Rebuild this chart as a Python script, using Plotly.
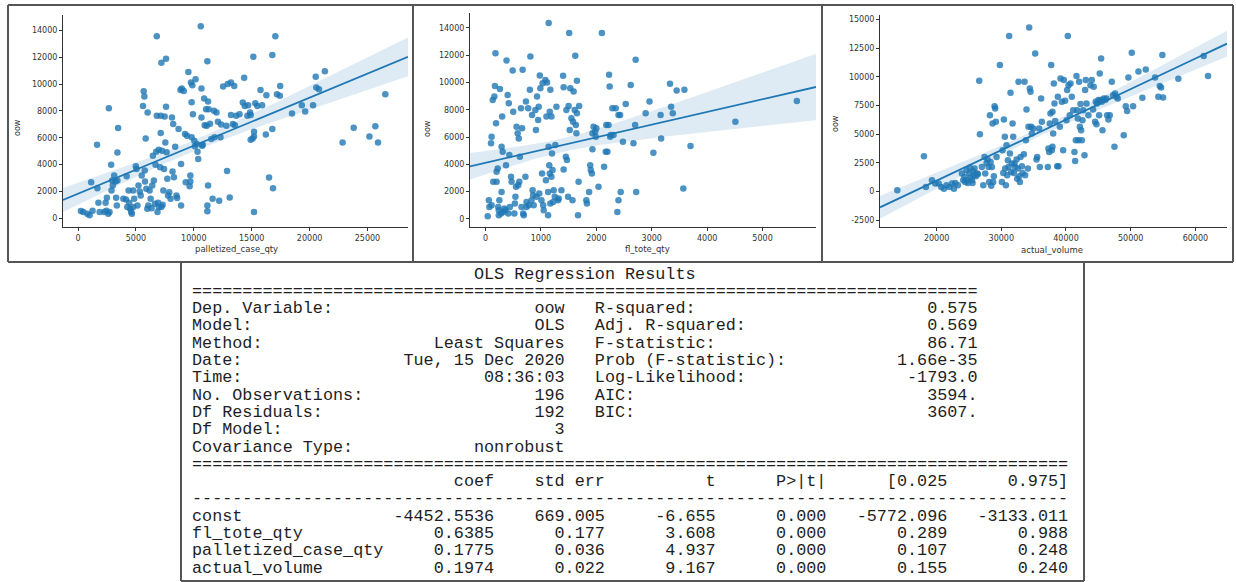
import numpy as np
import plotly.graph_objects as go

W, H = 1236, 582

# ---------------- data ----------------
pcq_pts = [
(250,520),(450,450),(800,320),(1000,200),(1250,550),(1130,2680),(1640,5480),(1670,2230),(1760,1140),(1870,450),
(2270,450),(2440,550),(2610,320),(2720,450),(2380,1140),(2490,1510),(2660,8210),(2860,3990),(2950,2800),(3000,2430),
(2890,2060),(3120,3170),(3230,2730),(3290,1510),(3350,940),(3460,6720),(3400,4890),(3400,2800),
(3910,1440),(4140,1390),(4250,820),(4200,3120),(4420,1140),(4510,690),(4650,320),(4760,2060),(4850,1440),(4990,3870),
(5050,3670),(5130,940),(5220,2430),(4590,450),(4760,820),(4370,2060),
(5330,1980),(5410,1690),(5500,3170),(5610,8380),(5670,9470),(5730,9080),(5760,3550),(5780,2730),(5840,5950),(5900,2180),
(6010,7890),(6070,940),(6180,2060),(6270,1440),(6350,740),(6460,4660),(6550,2800),(6630,1070),(6690,3990),(6750,4960),
(6800,7640),(6800,13590),(6860,450),(6920,1140),(6970,5110),(6410,2430),(5980,690),
(7090,3790),(7140,6350),(7140,7640),(7200,11610),(7260,5030),(7310,990),(7370,2060),(7430,3670),(7480,7590),(7540,5650),
(7600,11900),(7600,8310),(7650,4910),(7710,2930),(7770,1690),(7880,1930),(7990,1440),(8110,7510),(8160,3470),(8220,7020),
(8280,3050),(8390,5330),(8500,1690),(8560,1490),(8680,6650),(7200,820),(6970,820),
(8850,9570),(8900,4040),(8900,940),(8960,9670),(9130,9500),(9240,6270),(9300,2680),(9410,6150),(9530,10910),(9640,2380),
(9700,3170),(9700,2730),(9750,10120),(9810,6030),(9810,8660),(9870,9920),(9920,7760),(10040,5780),(10090,5360),(10150,10370),
(10260,5530),(10320,4960),(10380,4410),
(10600,14330),(10660,9670),(10660,7510),(10720,5410),(10770,5480),(10890,8930),(10940,6940),(11060,8130),(11110,6890),
(11170,11710),(11170,940),(11170,500),(11230,8700),(11230,2430),(11280,8130),(11400,7040),(11510,5900),(11620,1440),
(11740,8010),(11790,6030),(11960,7890),(12080,7190),
(12190,1290),(12300,6030),(12360,6990),(12530,9820),(12810,6890),(12870,3520),(12930,10020),(13100,1540),(13210,10120),
(13210,7690),(13380,7020),(13490,9870),(13550,6940),(13660,7640),
(13950,7760),(14230,8630),(14350,10490),(14400,8380),(14630,7640),(14690,8430),(14860,7890),(14910,7690),(15080,5950),
(15140,12050),(15200,6450),(15200,6100),(15200,450),(15310,8580),(15480,8380),(14910,5850),(15760,9570),(15900,8430),
(16220,6250),(16270,9180),(16500,3030),(16780,6650),(16780,12180),(16840,2230),(17040,13590),(17180,9250),(17430,9130),
(17460,9870),
(18480,7810),(19330,8430),(19620,7960),(20300,8430),(20530,10560),(20580,9750),(20810,9620),(21320,10960),(22850,5650),
(23810,6750),(25170,6100),(25680,6850),(25910,5650),(26540,9250),
]

tote_pts = [
(40,200),(60,1370),(100,5540),(110,6030),(140,2720),(160,8970),(170,9750),(180,12150),(190,7010),(200,3450),(220,3700),
(230,880),(240,640),(250,1370),(260,9530),(280,390),(290,1980),(290,5290),(300,7500),(310,4920),(320,510),(340,760),
(360,640),(370,3940),(380,11610),(400,9090),(410,390),(420,8480),(430,4680),(440,880),(460,3090),(470,2720),(70,880),
(110,1000),(130,8720),(200,2720),(240,270),
(490,10880),(500,7860),(520,390),(530,1130),(540,1620),(550,2350),(560,6760),(580,6270),(590,2470),(600,5900),(610,2720),
(620,4560),(640,8110),(650,880),(660,6640),(670,10930),(690,270),(720,3090),(730,8600),(740,1250),(770,8110),(780,1000),
(800,9460),(810,11910),(830,1370),(840,7620),(850,2110),(860,1740),(870,1000),(900,7990),(910,6520),(920,1620),(930,8970),
(950,7250),(960,8230),(970,1860),(980,10510),(990,9580),(1010,1370),(1020,3330),(1030,9950),(1040,1000),(1050,640),
(1080,10190),(740,880),(680,390),
(1090,2840),(1100,7500),(1110,10000),(1130,1980),(1130,270),(1140,5290),(1140,14360),(1150,3940),(1160,7860),(1160,3330),
(1170,9460),(1170,1130),(1190,3090),(1190,7500),(1200,4800),(1210,3580),(1220,1250),(1230,2110),(1250,1620),(1260,5410),
(1280,8230),(1310,1370),(1320,1490),(1370,2110),(1400,10490),(1410,3630),(1410,9650),(1450,4560),(1460,7990),(1470,4310),
(1490,1620),(1500,8280),(1510,13620),(1520,6520),(1530,9580),(1550,7370),(1570,1370),(1580,7130),(1590,9330),(1610,7990),
(1620,11960),(1630,6880),(1640,6270),(1650,7740),(1650,10120),(1670,270),(1680,2720),(1690,8280),
(1820,1370),(1830,1130),(1870,1980),(1890,3940),(1900,3580),(1920,3330),(1930,6270),(1930,5100),(1950,6760),(1980,6390),
(1990,6030),(2000,6640),(2040,2350),(2100,13620),(2140,3820),(2170,4920),(2180,6880),(2200,4920),(2220,6880),(2230,10560),
(2240,9700),(2250,6030),(2260,6150),
(2290,8110),(2310,6150),(2350,8110),(2380,510),(2400,1370),(2400,7620),(2430,7620),(2440,1980),(2480,5660),(2530,8430),
(2620,9820),(2670,5540),(2700,6880),(2710,11660),(2720,1980),(2890,7740),(2960,8600),
(3030,4850),(3160,7620),(3170,5900),(3330,9900),(3350,8230),(3380,7740),(3450,9410),(3570,2230),(3590,9460),(3700,5340),
(4510,7130),(5620,8650),
]

vol_pts = [
(13925,120),(18040,3080),(18350,410),(19280,990),(19790,700),(20310,700),(20720,410),(21130,260),(21540,550),(21960,410),
(22370,700),(22680,260),(22880,760),(23290,550),(23910,1570),(24120,990),(24320,1280),(24430,840),(24630,1860),(24740,990),
(24840,760),(25050,1570),(25150,2090),(25250,1220),(25460,990),(25560,760),(25660,1800),(25770,1420),(25870,2010),
(26070,1340),(26280,1570),(26380,1510),(26590,9650),(26690,5000),(27000,2150),(27210,550),(27410,3020),(27520,1570),
(27720,2500),(27880,2790),(28030,2150),(28130,840),(28240,6660),(28340,2590),(28440,520),(28550,2150),(28650,5930),
(28750,840),(28850,1340),(28960,7440),(29060,7240),(29160,6080),(29270,3020),(29780,11020),(30090,840),(30190,3600),
(30300,1630),(30400,6280),(30550,4770),(30600,2010),(30710,550),(30810,4040),(30910,1420),(31020,2730),(31120,2150),
(31220,13550),(31330,3310),(31430,8600),(31530,1720),(31630,2440),(31740,5930),(31840,4770),(31940,1630),(32050,2440),
(32150,2150),(32360,2790),(32460,1130),(32560,2010),(32660,9560),(32770,1340),(32870,840),(32970,3020),(33180,2210),
(33280,1630),(33490,3260),(33590,9560),(33690,1420),(33800,4480),(33900,7150),(34110,2010),(34210,5640),(34310,14300),
(34410,8980),(34520,8690),(34620,5640),(34720,5060),(34930,5490),(35240,12030),(35440,2790),(35550,3020),(35850,5490),
(35960,2150),(36160,8110),(36270,6080),(37190,2150),(37290,3750),(37400,3460),(37500,5930),(37600,6800),(37710,11020),
(37810,3600),(37910,3900),(37910,6950),(38020,5060),(38120,9420),(38220,7670),(38330,6160),(38640,2210),(38740,8260),
(38840,2210),(39050,5640),(39150,9850),(39360,7820),(39560,3600),(39670,9710),(39870,7910),(40080,6220),(40180,8840),
(40280,13550),(40390,9270),(40590,6660),(40700,9420),(40900,8260),(41110,7090),(41310,3460),(41410,2670),(41520,4480),
(41620,10060),(41720,7090),(41830,6370),(41930,4480),(42030,9560),(42140,5640),(42240,7620),(42340,5350),(42450,4480),
(42550,6220),(42650,7090),(42860,3170),(42960,8840),(43060,9710),(43170,7670),(43470,6660),(43780,9270),(43990,9710),
(44190,7150),(44290,9130),(44500,6080),(44600,7820),(44710,5870),(44810,7670),(45020,7970),(45120,6660),(45220,10290),
(45330,7970),(45430,11600),(45530,7820),(45640,5350),(45840,8110),(46050,7970),(46250,8110),(46360,6660),(46560,6280),
(46770,6660),(47080,9560),(47280,8400),(47490,3900),(47590,8550),(47800,8260),(48000,8110),(48930,4910),(49240,7440),
(49450,7030),(49650,9940),(50170,12090),(50370,7440),(51200,10470),(51810,8170),(52330,10640),(53770,9940),(54280,8260),
(54490,9190),(54700,9070),(55010,8200),(54900,11890),(57370,9830),(61290,11800),(61960,10060),
]

pcq_xticks = [0, 5000, 10000, 15000, 20000, 25000]
tote_xticks = [0, 1000, 2000, 3000, 4000, 5000]
vol_xticks = [20000, 30000, 40000, 50000, 60000]
oow_ticks_a = [0, 2000, 4000, 6000, 8000, 10000, 12000, 14000]
oow_ticks_b = [-2500, 0, 2500, 5000, 7500, 10000, 12500, 15000]

# OLS summary text
ols_title = "OLS Regression Results"
top_left = [("Dep. Variable:", "oow"), ("Model:", "OLS"), ("Method:", "Least Squares"),
            ("Date:", "Tue, 15 Dec 2020"), ("Time:", "08:36:03"), ("No. Observations:", "196"),
            ("Df Residuals:", "192"), ("Df Model:", "3"), ("Covariance Type:", "nonrobust")]
top_right = [("R-squared:", "0.575"), ("Adj. R-squared:", "0.569"), ("F-statistic:", "86.71"),
             ("Prob (F-statistic):", "1.66e-35"), ("Log-Likelihood:", "-1793.0"), ("AIC:", "3594."),
             ("BIC:", "3607."), None, None]
coef_header = ["coef", "std err", "t", "P>|t|", "[0.025", "0.975]"]
coef_names = ["const", "fl_tote_qty", "palletized_case_qty", "actual_volume"]
coef_vals = ["-4452.5536", "0.6385", "0.1775", "0.1974"]
std_err = ["669.005", "0.177", "0.036", "0.022"]
t_vals = ["-6.655", "3.608", "4.937", "9.167"]
p_vals = ["0.000", "0.000", "0.000", "0.000"]
ci_lo = ["-5772.096", "0.289", "0.107", "0.155"]
ci_hi = ["-3133.011", "0.988", "0.248", "0.240"]

# ---------------- helpers ----------------
def fx(p):
    return p / W

def fy(p):
    return 1 - p / H

BLUE = "#1f77b4"

def fit_band(x, y, grid):
    x = np.asarray(x, float)
    y = np.asarray(y, float)
    n = len(x)
    b, a = np.polyfit(x, y, 1)
    yhat = a + b * grid
    resid = y - (a + b * x)
    s = np.sqrt(resid @ resid / (n - 2))
    xm = x.mean()
    sxx = ((x - xm) ** 2).sum()
    se = s * np.sqrt(1 / n + (grid - xm) ** 2 / sxx)
    return yhat, yhat - 1.96 * se, yhat + 1.96 * se

panels = [
    dict(pts=pcq_pts, xlab="palletized_case_qty", dom=(63, 408), vdom=(15, 227),
         xr=(-1300, 28500), yr=(-670, 15170), xt=pcq_xticks, yt=oow_ticks_a,
         xl=(236, 249), yl=(17, 128)),
    dict(pts=tote_pts, xlab="fl_tote_qty", dom=(470, 816), vdom=(13, 227),
         xr=(-280, 5965), yr=(-590, 15090), xt=tote_xticks, yt=oow_ticks_a,
         xl=(647, 249), yl=(427, 128)),
    dict(pts=vol_pts, xlab="actual_volume", dom=(880, 1227), vdom=(15, 227),
         xr=(11250, 64890), yr=(-3080, 15380), xt=vol_xticks, yt=oow_ticks_b,
         xl=(1052, 250), yl=(835, 124)),
]

fig = go.Figure()
annotations = []
layout_axes = {}
tickfont = dict(family="DejaVu Sans", size=8, color="#333333")

for i, p in enumerate(panels, start=1):
    xs = [a for a, _ in p["pts"]]
    ys = [b for _, b in p["pts"]]
    xa = "x" if i == 1 else f"x{i}"
    ya = "y" if i == 1 else f"y{i}"
    fig.add_trace(go.Scatter(x=xs, y=ys, mode="markers", xaxis=xa, yaxis=ya,
                             marker=dict(color=BLUE, size=6.5, opacity=0.8, line=dict(width=0)),
                             showlegend=False, hoverinfo="skip"))
    grid = np.linspace(p["xr"][0], p["xr"][1], 120)
    yhat, lo, hi = fit_band(xs, ys, grid)
    fig.add_trace(go.Scatter(x=np.concatenate([grid, grid[::-1]]), y=np.concatenate([hi, lo[::-1]]),
                             mode="lines", fill="toself", fillcolor="rgba(31,119,180,0.15)",
                             line=dict(width=0), xaxis=xa, yaxis=ya, showlegend=False, hoverinfo="skip"))
    fig.add_trace(go.Scatter(x=grid, y=yhat, mode="lines", line=dict(color=BLUE, width=1.8),
                             xaxis=xa, yaxis=ya, showlegend=False, hoverinfo="skip"))
    axcommon = dict(showgrid=False, zeroline=False, showline=True, linecolor="#333333", linewidth=1,
                    ticks="outside", ticklen=3, tickwidth=1, tickcolor="#333333", tickfont=tickfont)
    layout_axes["xaxis" if i == 1 else f"xaxis{i}"] = dict(
        domain=[fx(p["dom"][0]), fx(p["dom"][1])], range=list(p["xr"]), anchor=ya,
        tickvals=p["xt"], ticktext=[str(v) for v in p["xt"]], **axcommon)
    layout_axes["yaxis" if i == 1 else f"yaxis{i}"] = dict(
        domain=[fy(p["vdom"][1]), fy(p["vdom"][0])], range=list(p["yr"]), anchor=xa,
        tickvals=p["yt"], ticktext=[str(v) for v in p["yt"]], **axcommon)
    annotations.append(dict(text=p["xlab"], x=fx(p["xl"][0]), y=fy(p["xl"][1]), xref="paper", yref="paper",
                            showarrow=False, xanchor="center", yanchor="middle",
                            font=dict(family="DejaVu Sans", size=8.5, color="#333333")))
    annotations.append(dict(text="oow", x=fx(p["yl"][0]), y=fy(p["yl"][1]), xref="paper", yref="paper",
                            showarrow=False, xanchor="center", yanchor="middle", textangle=-90,
                            font=dict(family="DejaVu Sans", size=8, color="#333333")))

# ---------------- OLS summary text ----------------
lines = [ols_title.center(78), "=" * 78]
for lft, rgt in zip(top_left, top_right):
    s = f"{lft[0]}{lft[1]:>{37 - len(lft[0])}}"
    if rgt is not None:
        s += f"   {rgt[0]}{rgt[1]:>{38 - len(rgt[0])}}"
    lines.append(s)
lines.append("=" * 87)
hdr = f"{'':<19}{coef_header[0]:>11}{coef_header[1]:>11}{coef_header[2]:>11}{coef_header[3]:>11}{coef_header[4]:>12}{coef_header[5]:>12}"
lines.append(hdr)
lines.append("-" * 87)
for k in range(len(coef_names)):
    lines.append(f"{coef_names[k]:<19}{coef_vals[k]:>11}{std_err[k]:>11}{t_vals[k]:>11}{p_vals[k]:>11}{ci_lo[k]:>12}{ci_hi[k]:>12}")

for k, s in enumerate(lines):
    annotations.append(dict(text=s.replace(" ", "\u00a0").replace(">", "&gt;"), x=fx(189.5), y=fy(274 + 17.3 * k),
                            xref="paper", yref="paper", showarrow=False, xanchor="left", yanchor="middle",
                            font=dict(family="Liberation Mono", size=16.8, color="#1e1e1e")))

# ---------------- frames ----------------
shapes = []
bc = dict(color="#555555", width=2)
def seg(x0, y0, x1, y1):
    shapes.append(dict(type="line", xref="paper", yref="paper", x0=fx(x0), y0=fy(y0), x1=fx(x1), y1=fy(y1), line=bc))
seg(8, 5, 1233, 5)
seg(8, 262, 1233, 262)
for xv in (8, 413, 822, 1233):
    seg(xv, 5, xv, 262)
seg(181, 262, 181, 581)
seg(1084, 262, 1084, 581)
seg(181, 581, 1084, 581)

fig.update_layout(width=W, height=H, margin=dict(l=0, r=0, t=0, b=0),
                  paper_bgcolor="white", plot_bgcolor="white",
                  annotations=annotations, shapes=shapes, showlegend=False, **layout_axes)

fig.write_html("out.html")
